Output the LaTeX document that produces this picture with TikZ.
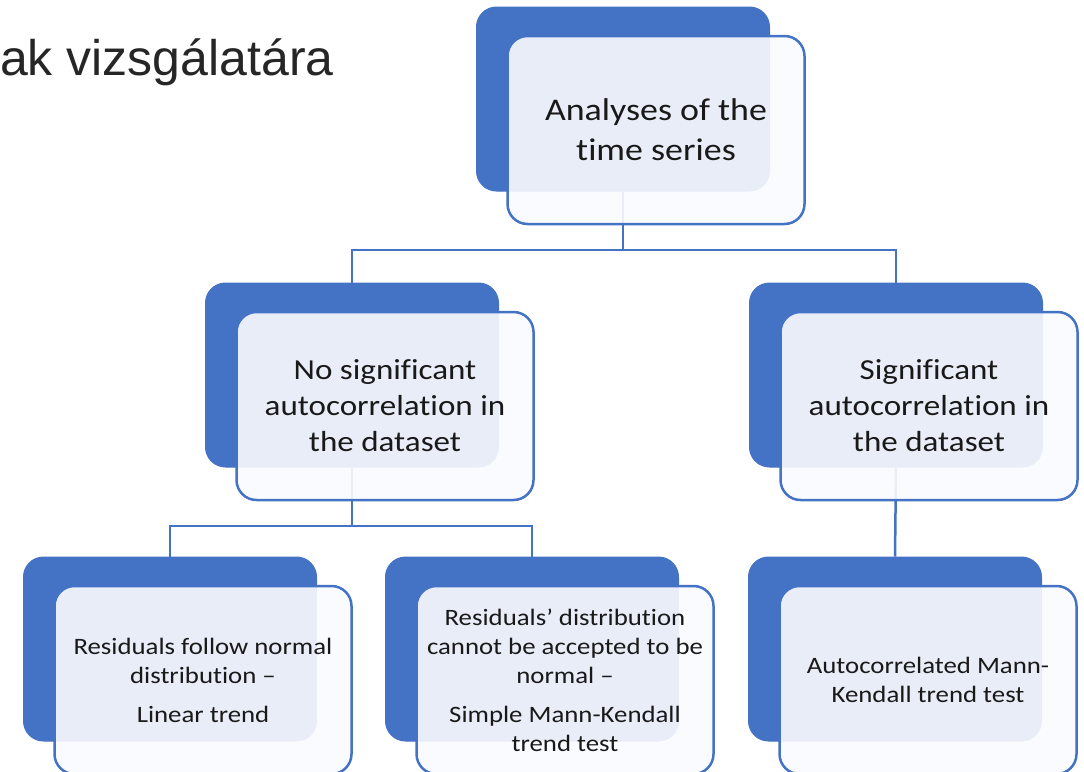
\documentclass[tikz,border=0pt]{standalone}
\usepackage{fontspec}
\setmainfont{Carlito}[FakeStretch=1.14, Ligatures=NoCommon]
\newfontfamily\titlefont{Liberation Sans}
\usetikzlibrary{calc}
\definecolor{boxblue}{RGB}{68,114,196}
\definecolor{boxfill}{RGB}{250,251,254}
\definecolor{titlegray}{RGB}{38,38,38}

\begin{document}
\begin{tikzpicture}[x=1pt, y=-1pt,
  backbox/.style={draw=boxblue, fill=boxblue, line width=1pt, rounded corners=20pt,
    minimum width=293pt, minimum height=184pt},
  frontbox/.style={draw=boxblue, line width=2.5pt, fill=boxfill, fill opacity=0.9,
    text opacity=1, text=black!90, rounded corners=20pt, align=center,
    minimum width=297pt, minimum height=188pt},
  conn/.style={draw=boxblue, line width=2.5pt}]

% Frame
\useasboundingbox (0,0) rectangle (1084,771);
\clip (0,0) rectangle (1084,771);

% Title
\node[anchor=base west, inner sep=0pt, text=titlegray, font=\titlefont\fontsize{50}{60}\selectfont] (title) at (0,75) {ak vizsgálatára};

% Back boxes
\node[backbox] (top) at (623,99) {};
\node[backbox] (midl) at (352,375) {};
\node[backbox] (midr) at (896,375) {};
\node[backbox] (botl) at (170,649) {};
\node[backbox] (botm) at (532,649) {};
\node[backbox] (botr) at (895,649) {};

% Joints
\coordinate (j1) at (623,250);
\coordinate (j2) at (352,526);

% Connectors
\draw[conn] (top.south) -- (j1);
\draw[conn] (midl.north) |- (j1) -| (midr.north);
\draw[conn] (midl.south) -- (j2);
\draw[conn] (botl.north) |- (j2) -| (botm.north);
\draw[conn] (midr.south) -- (botr.north);

% Front boxes
\node[frontbox, font=\fontsize{31.5}{40}\selectfont] (topf) at ($(top)+(33,31)$) {Analyses of the\\ time series};
\node[frontbox, font=\fontsize{29}{36}\selectfont] (midlf) at ($(midl)+(33,31)$) {No significant\\ autocorrelation in\\ the dataset};
\node[frontbox, font=\fontsize{29}{36}\selectfont] (midrf) at ($(midr)+(33,31)$) {Significant\\ autocorrelation in\\ the dataset};
\node[frontbox, font=\fontsize{23.5}{29}\selectfont] (botlf) at ($(botl)+(33,31)$) {Residuals follow normal\\ distribution –\\[10pt] Linear trend};
\node[frontbox, font=\fontsize{23.5}{29}\selectfont] (botmf) at ($(botm)+(33,31)$) {Residuals’ distribution\\ cannot be accepted to be\\ normal –\\[10pt] Simple Mann-Kendall\\ trend test};
\node[frontbox, font=\fontsize{23.5}{29}\selectfont] (botrf) at ($(botr)+(33,31)$) {Autocorrelated Mann-\\ Kendall trend test};

\end{tikzpicture}
\end{document}
